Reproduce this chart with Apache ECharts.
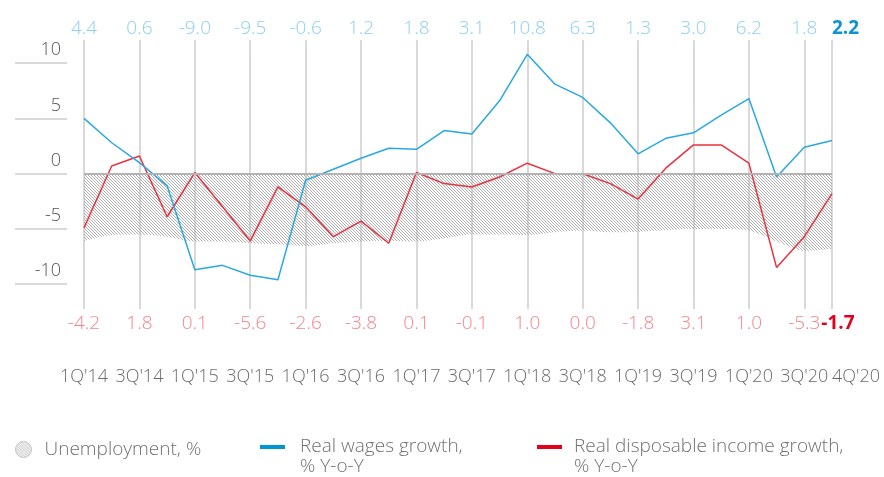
<!DOCTYPE html>
<html>
<head>
<meta charset="utf-8">
<script src="https://cdn.jsdelivr.net/npm/echarts@6/dist/echarts.min.js"></script>
<style>
  html, body { margin: 0; padding: 0; background: #fff; }
  #chart { width: 884px; height: 477px; }
</style>
</head>
<body>
<div id="chart"></div>
<script>
// quarters on the x axis
var quarters = ['1Q\'14', '2Q\'14', '3Q\'14', '4Q\'14', '1Q\'15', '2Q\'15', '3Q\'15', '4Q\'15',
  '1Q\'16', '2Q\'16', '3Q\'16', '4Q\'16', '1Q\'17', '2Q\'17', '3Q\'17', '4Q\'17',
  '1Q\'18', '2Q\'18', '3Q\'18', '4Q\'18', '1Q\'19', '2Q\'19', '3Q\'19', '4Q\'19',
  '1Q\'20', '2Q\'20', '3Q\'20', '4Q\'20']

// series values, %
var unemployment = [6.1, 5.55, 5.5, 5.7, 6.15, 6.15, 6.3, 6.4, 6.55, 6.3, 6.15, 6.1, 6.15, 5.85,
  5.5, 5.5, 5.55, 5.3, 5.15, 5.3, 5.25, 5.1, 5.0, 5.0, 5.15, 6.15, 7.0, 6.8]
var wagesGrowth = [5.0, 2.8, 1.0, -1.1, -8.7, -8.3, -9.2, -9.6, -0.6, 0.4, 1.4, 2.3, 2.2, 3.9,
  3.6, 6.6, 10.8, 8.1, 6.9, 4.6, 1.8, 3.2, 3.7, 5.3, 6.8, -0.3, 2.4, 3.0]
var incomeGrowth = [-4.9, 0.7, 1.6, -3.9, 0.1, -3.0, -6.1, -1.2, -3.0, -5.7, -4.3, -6.3, 0.1, -0.9,
  -1.2, -0.3, 0.95, 0.0, 0.0, -0.9, -2.3, 0.5, 2.6, 2.6, 0.95, -8.5, -5.7, -1.8]

// value labels printed above / below the plot (1Q, 3Q and the last quarter)
var wagesLabels = ['4.4', '0.6', '-9.0', '-9.5', '-0.6', '1.2', '1.8', '3.1', '10.8', '6.3', '1.3', '3.0', '6.2', '1.8', '2.2']
var incomeLabels = ['-4.2', '1.8', '0.1', '-5.6', '-2.6', '-3.8', '0.1', '-0.1', '1.0', '0.0', '-1.8', '3.1', '1.0', '-5.3', '-1.7']
var yTicks = [-10, -5, 0, 5, 10]

var FONT = '"Open Sans", sans-serif'
var lastIdx = quarters.length - 1

function shown (i) {
  return i % 2 === 0 || i === lastIdx
}
function labelAt (arr, i) {
  if (i === lastIdx) return arr[arr.length - 1]
  return arr[i / 2]
}

// hatch pattern for the unemployment area
function hatch () {
  var c = document.createElement('canvas')
  c.width = 3
  c.height = 3
  var ctx = c.getContext('2d')
  ctx.strokeStyle = '#a6a6a6'
  ctx.lineWidth = 0.9
  for (var k = -3; k <= 3; k += 3) {
    ctx.beginPath()
    ctx.moveTo(k, 0)
    ctx.lineTo(k + 3, 3)
    ctx.stroke()
  }
  return { image: c, repeat: 'repeat' }
}
var hatchFill = hatch()

// two-line legend text: a blank first line keeps the icon level with the first text line
function twoLine (name) {
  return ' \n' + name
}

var chart = echarts.init(document.getElementById('chart'))
chart.setOption({
  animation: false,
  textStyle: { fontFamily: FONT },
  grid: { left: 84, right: 52, top: 40, bottom: 168 },
  legend: [
    {
      left: 15, top: 440, padding: 0, icon: 'circle', itemWidth: 16, itemHeight: 16,
      data: [{ name: 'Unemployment, %', itemStyle: { color: hatchFill, borderColor: '#c4c4c4', borderWidth: 1 } }],
      textStyle: { fontSize: 19, fontWeight: 300, color: '#707070', padding: [0, 0, 0, 8] }
    },
    {
      left: 260, top: 417, padding: 0, icon: 'rect', itemWidth: 25, itemHeight: 4,
      formatter: twoLine,
      data: [{ name: 'Real wages growth,\n% Y-o-Y', itemStyle: { color: '#0096d6' } }],
      textStyle: { fontSize: 19, fontWeight: 300, color: '#707070', lineHeight: 20, padding: [0, 0, 0, 10] }
    },
    {
      left: 537, top: 417, padding: 0, icon: 'rect', itemWidth: 25, itemHeight: 4,
      formatter: twoLine,
      data: [{ name: 'Real disposable income growth,\n% Y-o-Y', itemStyle: { color: '#e2001a' } }],
      textStyle: { fontSize: 19, fontWeight: 300, color: '#707070', lineHeight: 20, padding: [0, 0, 0, 7] }
    }
  ],
  xAxis: [
    {
      type: 'category',
      data: quarters,
      boundaryGap: false,
      position: 'bottom',
      axisLine: { show: false },
      axisTick: { show: false },
      splitLine: {
        show: true,
        interval: function (i) { return shown(i) },
        lineStyle: { color: '#cdcdcd', width: 1.5 }
      },
      axisLabel: {
        interval: function (i) { return shown(i) },
        margin: 59,
        color: '#6b6b6b',
        fontSize: 18,
        fontWeight: 300,
        fontFamily: FONT,
        alignMaxLabel: 'left'
      }
    },
    {
      type: 'category',
      data: quarters,
      boundaryGap: false,
      position: 'bottom',
      axisLine: { show: false },
      axisTick: { show: false },
      splitLine: { show: false },
      axisLabel: {
        interval: function (i) { return shown(i) },
        margin: 5,
        color: '#f4858f',
        fontSize: 19,
        fontWeight: 300,
        fontFamily: FONT,
        alignMaxLabel: 'center',
        formatter: function (v, i) {
          var t = labelAt(incomeLabels, i)
          return i === lastIdx ? '{b|' + t + '}' : t
        },
        rich: { b: { fontWeight: 'bold', color: '#e3001b', fontSize: 19, fontFamily: FONT, padding: [0, 0, 0, 12] } }
      }
    },
    {
      type: 'category',
      data: quarters,
      boundaryGap: false,
      position: 'top',
      axisLine: { show: false },
      axisTick: { show: false },
      splitLine: { show: false },
      axisLabel: {
        interval: function (i) { return shown(i) },
        margin: 2,
        color: '#8dd0ef',
        fontSize: 19,
        fontWeight: 300,
        fontFamily: FONT,
        alignMaxLabel: 'left',
        formatter: function (v, i) {
          var t = labelAt(wagesLabels, i)
          return i === lastIdx ? '{b|' + t + '}' : t
        },
        rich: { b: { fontWeight: 'bold', color: '#0a93d6', fontSize: 19, fontFamily: FONT } }
      }
    }
  ],
  yAxis: {
    type: 'value',
    min: -12.25,
    max: 12.1,
    position: 'left',
    offset: 17,
    axisLine: { show: false },
    splitLine: { show: false },
    axisTick: {
      show: true,
      length: 52,
      customValues: yTicks,
      lineStyle: { color: '#cdcdcd', width: 1.5 }
    },
    axisLabel: {
      customValues: yTicks,
      margin: 6,
      color: '#555',
      fontSize: 18,
      fontWeight: 300,
      fontFamily: FONT,
      verticalAlign: 'bottom',
      padding: [0, 0, 4, 0]
    }
  },
  series: [
    {
      name: 'Unemployment, %',
      type: 'line',
      xAxisIndex: 0,
      data: unemployment.map(function (v) { return -v }),
      smooth: 0.3,
      symbol: 'none',
      lineStyle: { width: 0 },
      itemStyle: { color: '#bbb' },
      areaStyle: { color: hatchFill, opacity: 1 },
      markLine: {
        silent: true,
        symbol: 'none',
        label: { show: false },
        lineStyle: { color: '#b3b3b3', width: 2, type: 'solid' },
        data: [{ yAxis: 0 }]
      },
      z: 1
    },
    {
      name: 'Real wages growth,\n% Y-o-Y',
      type: 'line',
      xAxisIndex: 0,
      data: wagesGrowth,
      symbol: 'none',
      lineStyle: { color: '#2aa8e0', width: 1.5 },
      itemStyle: { color: '#0096d6' },
      z: 3
    },
    {
      name: 'Real disposable income growth,\n% Y-o-Y',
      type: 'line',
      xAxisIndex: 0,
      data: incomeGrowth,
      symbol: 'none',
      lineStyle: { color: '#e8323f', width: 1.5 },
      itemStyle: { color: '#e2001a' },
      z: 2
    }
  ]
})
</script>
</body>
</html>
